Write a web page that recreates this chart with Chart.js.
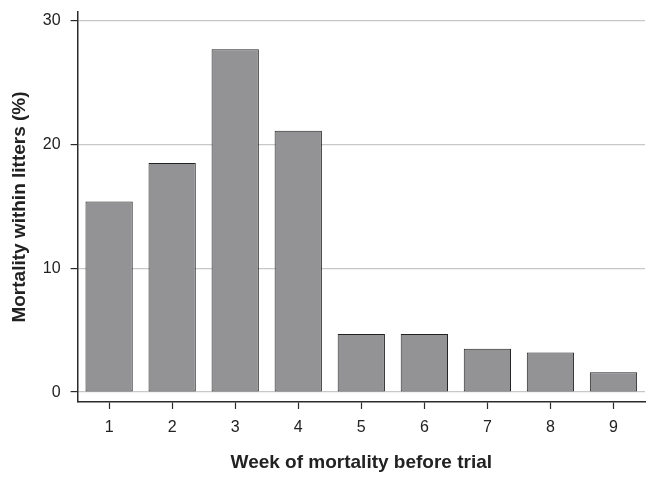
<!DOCTYPE html>
<html>
<head>
<meta charset="utf-8">
<script src="https://cdn.jsdelivr.net/npm/chart.js@4.4.0/dist/chart.umd.min.js"></script>
<style>
  html, body { margin: 0; padding: 0; background: #fff; }
  #wrap { width: 658px; height: 481px; }
</style>
</head>
<body>
<div id="wrap"><canvas id="chart" width="658" height="481"></canvas></div>
<script>
// данные графика
const weeks = ['1', '2', '3', '4', '5', '6', '7', '8', '9'];
const mortality = [15.4, 18.5, 27.7, 21.1, 4.7, 4.7, 3.5, 3.2, 1.6];
const yTicks = [0, 10, 20, 30];

const font = "'Liberation Sans', Arial, Helvetica, sans-serif";
const dark = '#2b2b2b';

new Chart(document.getElementById('chart'), {
    type: 'bar',
    data: {
        labels: weeks,
        datasets: [{
            data: mortality,
            backgroundColor: '#939396',
            borderColor: '#222',
            borderWidth: 1,
            borderSkipped: false,
            categoryPercentage: 0.75,
            barPercentage: 1.0
        }]
    },
    options: {
        responsive: false,
        animation: false,
        devicePixelRatio: 1,
        layout: { padding: { top: 12, right: 13, bottom: 7, left: 8 } },
        plugins: { legend: { display: false }, tooltip: { enabled: false } },
        scales: {
            x: {
                offset: true,
                grid: { offset: false, drawOnChartArea: false, drawTicks: true, tickLength: 7, tickColor: dark, tickWidth: 1.2 },
                border: { display: true, color: dark, width: 1.5 },
                ticks: { color: '#222', font: { family: font, size: 16 }, padding: 9 },
                title: { display: true, text: 'Week of mortality before trial', color: '#222', font: { family: font, size: 19, weight: 'bold' }, padding: { top: 5, bottom: 0 } }
            },
            y: {
                min: -0.8,
                max: 30.7,
                afterBuildTicks: axis => { axis.ticks = yTicks.map(v => ({ value: v })); },
                // метки не должны сдвигать область графика
                afterFit: axis => { axis.paddingTop = 0; axis.paddingBottom = 0; },
                grid: { color: '#c8c8c8', lineWidth: 1.2, drawTicks: true, tickLength: 7, tickColor: dark, tickWidth: 1.2 },
                border: { display: true, color: dark, width: 1.5 },
                ticks: { color: '#222', font: { family: font, size: 16 }, padding: 10 },
                title: { display: true, text: 'Mortality within litters (%)', color: '#222', font: { family: font, size: 19, weight: 'bold' }, padding: { top: 0, bottom: 2 } }
            }
        }
    }
});
</script>
</body>
</html>
